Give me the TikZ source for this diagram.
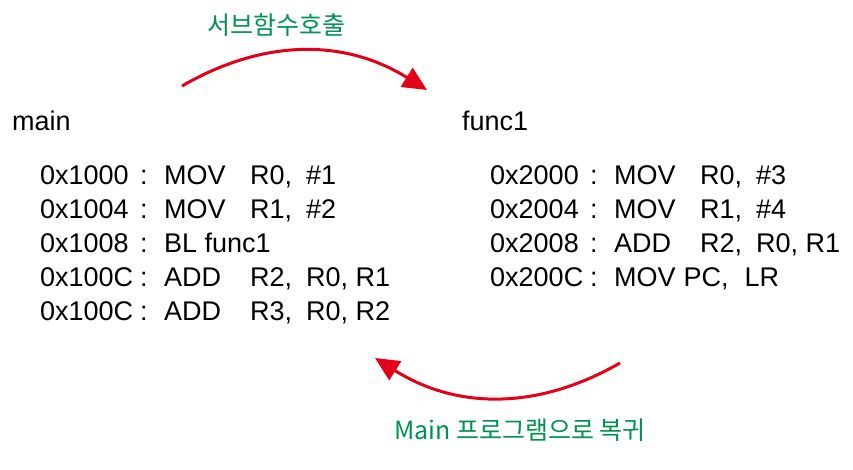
\documentclass[tikz,border=0pt]{standalone}
\usepackage{fontspec}
\setmainfont{Liberation Sans}
\newfontfamily\cjk{Noto Sans CJK KR}
\usepackage{tikz}
\usetikzlibrary{arrows.meta}
\definecolor{callred}{RGB}{228,0,24}
\definecolor{labgreen}{RGB}{0,146,80}
\newcommand{\asm}[4]{\makebox[100pt][l]{#1}\makebox[24pt][l]{:}\makebox[86pt][l]{#2}\makebox[56pt][l]{#3}#4}

\begin{document}
\begin{tikzpicture}
[x=1pt,y=1pt,
   txt/.style={inner sep=0pt,anchor=base west,font=\fontsize{27}{30}\selectfont},
   lab/.style={inner sep=0pt,text=labgreen,font=\cjk\fontsize{25}{29}\selectfont},
   jump/.style={draw=callred,line width=3pt,-{Triangle[length=24pt,width=22pt]},bend left=31}]
\useasboundingbox (0,0) rectangle (853,470);
\node[txt] (main) at (12,339) {main};
\node[txt] (func) at (462,339) {func1};
% main
\node[txt] (m1) at (40,285) {\asm{0x1000}{MOV}{R0,}{\#1}};
\node[txt] (m2) at (40,251) {\asm{0x1004}{MOV}{R1,}{\#2}};
\node[txt] (m3) at (40,217) {\makebox[100pt][l]{0x1008}\makebox[24pt][l]{:}BL func1};
\node[txt] (m4) at (40,183) {\asm{0x100C}{ADD}{R2,}{R0, R1}};
\node[txt] (m5) at (40,149) {\asm{0x100C}{ADD}{R3,}{R0, R2}};
% func1
\node[txt] (f1) at (490,285) {\asm{0x2000}{MOV}{R0,}{\#3}};
\node[txt] (f2) at (490,251) {\asm{0x2004}{MOV}{R1,}{\#4}};
\node[txt] (f3) at (490,217) {\asm{0x2008}{ADD}{R2,}{R0, R1}};
\node[txt] (f4) at (490,183) {\makebox[100pt][l]{0x200C}\makebox[24pt][l]{:}MOV\hspace{8pt}PC,\hspace{16pt}LR};
% arrows
\coordinate (cs) at (182,384);
\coordinate (ce) at (427,380);
\coordinate (rs) at (620,107);
\coordinate (re) at (375,112);
\draw[jump] (cs) to (ce);
\draw[jump] (rs) to (re);
\node[lab] (call) at (276,445) {서브함수호출};
\node[lab] (ret) at (520,40) {Main 프로그램으로 복귀};
\end{tikzpicture}
\end{document}
